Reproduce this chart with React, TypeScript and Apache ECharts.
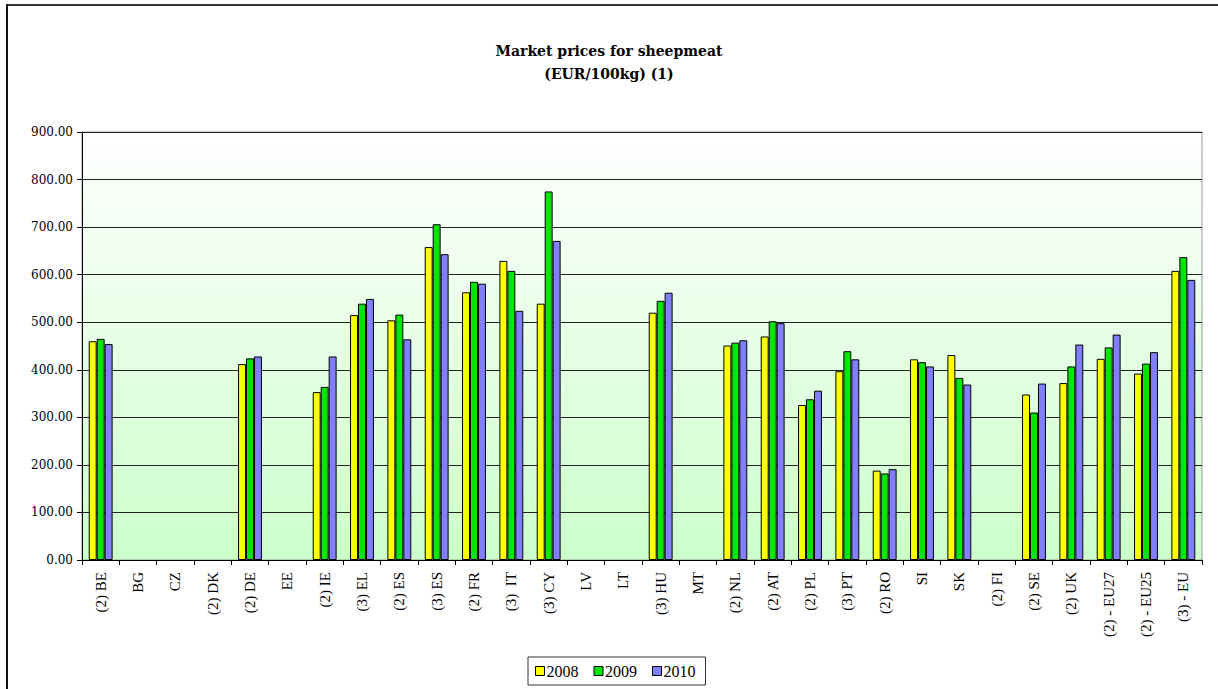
import React, { useEffect, useRef } from "react";
import * as echarts from "echarts";

const categories = [
  "(2) BE", "BG", "CZ", "(2) DK", "(2) DE", "EE", "(2) IE", "(3) EL", "(2) ES", "(3) ES",
  "(2) FR", "(3)  IT", "(3) CY", "LV", "LT", "(3) HU", "MT", "(2) NL", "(2) AT", "(2) PL",
  "(3) PT", "(2) RO", "SI", "SK", "(2) FI", "(2) SE", "(2) UK", "(2) - EU27", "(2) - EU25", "(3) - EU",
];

const values2008 = [
  460, null, null, null, 412, null, 353, 515, 504, 658,
  563, 629, 539, null, null, 520, null, 451, 470, 326,
  397, 188, 422, 431, null, 348, 372, 423, 392, 608,
];
const values2009 = [
  465, null, null, null, 424, null, 364, 539, 516, 706,
  585, 608, 775, null, null, 545, null, 457, 502, 338,
  439, 182, 416, 383, null, 310, 407, 447, 413, 637,
];
const values2010 = [
  454, null, null, null, 428, null, 428, 549, 464, 643,
  581, 524, 671, null, null, 562, null, 462, 498, 356,
  422, 191, 407, 369, null, 371, 453, 474, 437, 589,
];

const seriesNames = ["2008", "2009", "2010"];
const seriesColors = ["#ffff00", "#00e600", "#7f7fff"];

const SERIF = "'Liberation Serif', 'Times New Roman', serif";
const WIDE_SERIF = "'DejaVu Serif', serif";

export default function App() {
  const ref = useRef<HTMLDivElement>(null);
  useEffect(() => {
    if (!ref.current) return;
    const chart = echarts.init(ref.current, undefined, { renderer: "svg" });
    const data = [values2008, values2009, values2010];
    chart.setOption({
      animation: false,
      backgroundColor: "#ffffff",
      title: {
        text: "Market prices for sheepmeat\n(EUR/100kg) (1)",
        left: "center",
        top: 34,
        textStyle: {
          fontFamily: WIDE_SERIF,
          fontWeight: "bold",
          fontSize: 14,
          lineHeight: 23,
          color: "#000",
        },
      },
      legend: {
        data: seriesNames,
        top: 657,
        left: 528,
        icon: "rect",
        itemWidth: 9,
        itemHeight: 9,
        itemGap: 15,
        padding: [6, 10, 6, 7],
        borderColor: "#333",
        borderWidth: 1,
        textStyle: { fontFamily: SERIF, fontSize: 16, color: "#000", padding: [0, 0, 0, -3] },
        itemStyle: { borderColor: "#000", borderWidth: 1 },
      },
      graphic: [
        { type: "line", shape: { x1: 7, y1: 5, x2: 1218, y2: 5 }, style: { stroke: "#333", lineWidth: 2 } },
        { type: "line", shape: { x1: 7, y1: 4, x2: 7, y2: 689 }, style: { stroke: "#111", lineWidth: 2 } },
      ],
      grid: {
        left: 82,
        right: 16,
        top: 132,
        bottom: 129,
        show: true,
        borderColor: "#999",
        borderWidth: 1,
        backgroundColor: new echarts.graphic.LinearGradient(0, 0, 0, 1, [
          { offset: 0, color: "#ffffff" },
          { offset: 1, color: "#ccffcc" },
        ]),
      },
      xAxis: {
        type: "category",
        data: categories,
        axisLine: { lineStyle: { color: "#000", width: 1 } },
        axisTick: { show: true, interval: 0, length: 5, lineStyle: { color: "#000" } },
        axisLabel: {
          interval: 0,
          rotate: 90,
          fontFamily: SERIF,
          fontSize: 15,
          color: "#000",
          margin: 12,
        },
      },
      yAxis: {
        type: "value",
        min: 0,
        max: 900,
        interval: 100,
        axisLine: { show: true, lineStyle: { color: "#000" } },
        axisTick: { show: true, length: 5, lineStyle: { color: "#000" } },
        splitLine: { show: true, lineStyle: { color: "#222", width: 1 } },
        axisLabel: {
          formatter: (v: number) => v.toFixed(2),
          fontFamily: WIDE_SERIF,
          fontSize: 12,
          color: "#000",
          margin: 9,
        },
      },
      series: seriesNames.map((name, i) => ({
        name,
        type: "bar",
        data: data[i],
        barGap: "0%",
        barCategoryGap: "36%",
        itemStyle: { color: seriesColors[i], borderColor: "#000", borderWidth: 1 },
      })),
    });
    return () => chart.dispose();
  }, []);
  return (
    <div
      ref={ref}
      style={{ position: "absolute", left: 0, top: 0, width: 1218, height: 689 }}
    />
  );
}
